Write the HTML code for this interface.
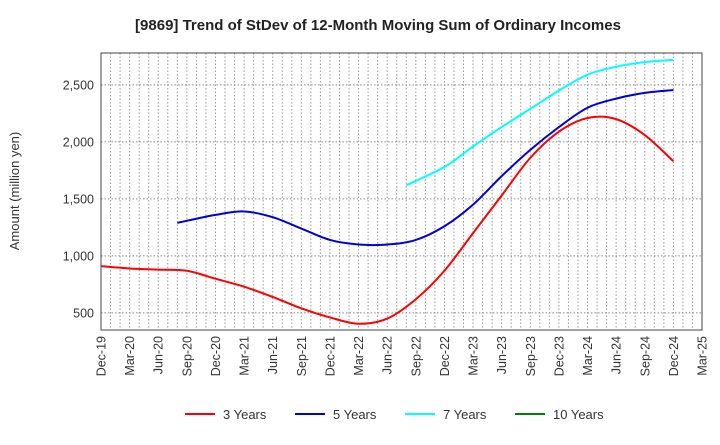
<!DOCTYPE html>
<html><head><meta charset="utf-8"><style>
body{margin:0;background:#fff;font-family:"Liberation Sans",Arial,sans-serif}
svg text{font-family:"Liberation Sans",Arial,sans-serif}
</style></head><body>
<svg width="720" height="440" xmlns="http://www.w3.org/2000/svg">
<text x="378" y="30" text-anchor="middle" font-size="15" font-weight="bold" fill="#222">[9869]  Trend of StDev of 12-Month Moving Sum of Ordinary Incomes</text>
<text transform="translate(19,191) rotate(-90)" text-anchor="middle" font-size="13" fill="#333">Amount (million yen)</text>
<g id="grid"></g>
<g id="series"></g>
<rect x="101" y="53" width="601" height="277" fill="none" stroke="#444"/>
<g id="ticks"></g>
<g id="legend"></g>
</svg>
<script>
const xLabels=["Dec-19","Mar-20","Jun-20","Sep-20","Dec-20","Mar-21","Jun-21","Sep-21","Dec-21","Mar-22","Jun-22","Sep-22","Dec-22","Mar-23","Jun-23","Sep-23","Dec-23","Mar-24","Jun-24","Sep-24","Dec-24","Mar-25"];
const yTicks=[500,1000,1500,2000,2500];
const s3=[910,890,880,870,800,730,640,540,460,405,450,620,870,1200,1530,1860,2090,2210,2200,2060,1830];
const s5=[null,null,null,1290,1360,1390,1340,1240,1140,1100,1100,1140,1260,1450,1700,1930,2130,2300,2380,2430,2455];
const s7=[null,null,null,null,null,null,null,null,null,null,null,1620,1780,1960,2130,2290,2450,2590,2660,2700,2720];
const s10=[];
const X0=101,X1=702,Y0=330,Y1=53,YMIN=350,YMAX=2780;
const xq=i=>X0+(X1-X0)*i/(xLabels.length-1);
const xm=m=>X0+(X1-X0)*m/((xLabels.length-1)*3);
const y=v=>Y0-(v-YMIN)/(YMAX-YMIN)*(Y0-Y1);
const NS="http://www.w3.org/2000/svg";
function mk(t,a,p){const e=document.createElementNS(NS,t);for(const k in a)e.setAttribute(k,a[k]);p.appendChild(e);return e;}
const grid=document.getElementById('grid'),ticks=document.getElementById('ticks');
for(let m=1;m<(xLabels.length-1)*3;m++){const l=mk('line',{x1:xm(m),x2:xm(m),y1:Y1,y2:Y0,stroke:'#999','stroke-dasharray':'1.5,2','stroke-width':1},grid);

}
yTicks.forEach(v=>{const l=mk('line',{x1:X0,x2:X1,y1:y(v),y2:y(v),stroke:'#888','stroke-dasharray':'1.5,2'},grid);


const t=mk('text',{x:X0-7,y:y(v)+4.5,'text-anchor':'end','font-size':12.5,fill:'#333'},ticks);t.textContent=v.toLocaleString('en-US');

});
xLabels.forEach((s,i)=>{const t=mk('text',{transform:`translate(${xq(i)+4.5},336) rotate(-90)`,'text-anchor':'end','font-size':12.5,fill:'#333'},ticks);t.textContent=s;

});
function path(arr){const pts=[];let first=true;arr.forEach((v,i)=>{if(v!=null){pts.push([first&&i>0?xq(i-1/3):xq(i),y(v)]);first=false;}});if(pts.length<2)return '';
let d=`M${pts[0][0]},${pts[0][1]}`;for(let i=0;i<pts.length-1;i++){const p0=pts[Math.max(0,i-1)],p1=pts[i],p2=pts[i+1],p3=pts[Math.min(pts.length-1,i+2)];
d+=` C${p1[0]+(p2[0]-p0[0])/6},${p1[1]+(p2[1]-p0[1])/6} ${p2[0]-(p3[0]-p1[0])/6},${p2[1]-(p3[1]-p1[1])/6} ${p2[0]},${p2[1]}`;}return d;}
const ser=document.getElementById('series');
[[s3,'#ff0000','line-3-years'],[s5,'#0000dd','line-5-years'],[s7,'#00ffff','line-7-years'],[s10,'#008000','line-10-years']].forEach(([a,c,n])=>{const d=path(a);if(!d)return;
const p=mk('path',{d:d,fill:'none',stroke:c,'stroke-width':2},ser);

});
const lg=document.getElementById('legend');
[['3 Years','#ff0000',185],['5 Years','#0000dd',295],['7 Years','#00ffff',405],['10 Years','#008000',515]].forEach(([n,c,x])=>{
const g=mk('g',{},lg);


mk('line',{x1:x,x2:x+30,y1:414,y2:414,stroke:c,'stroke-width':2},g);
const t=mk('text',{x:x+38,y:419,'font-size':13,fill:'#333'},g);t.textContent=n;});
</script>
</body></html>
